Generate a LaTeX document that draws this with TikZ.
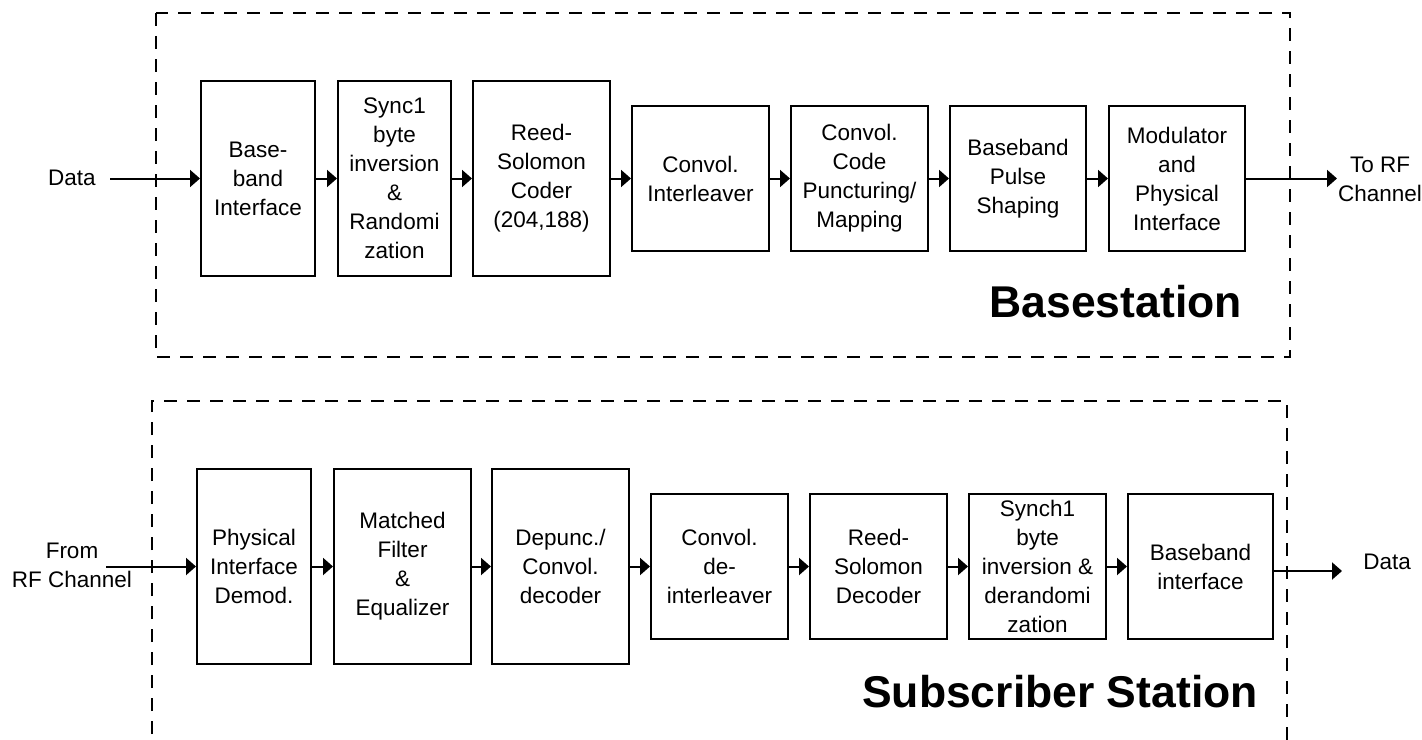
\documentclass[tikz,border=0pt]{standalone}
\usepackage{fontspec}
\setmainfont{Liberation Sans}
\usetikzlibrary{arrows.meta}
\tikzset{
  blk/.style={draw, line width=2bp, inner sep=0pt, align=center,
    font=\fontsize{22.5bp}{29bp}\selectfont},
  tall/.style={minimum height=195bp},
  short/.style={minimum height=145bp},
  lbl/.style={inner sep=0pt, align=center, font=\fontsize{22.5bp}{29bp}\selectfont},
  title/.style={inner sep=0pt, font=\fontsize{44.5bp}{50bp}\selectfont\bfseries},
  conn/.style={line width=2bp, -{Triangle[length=10bp,width=17bp]}},
  frame/.style={line width=2bp, dash pattern=on 13bp off 10bp},
}
\begin{document}
\begin{tikzpicture}[x=1bp,y=-1bp]
\useasboundingbox (0,0) rectangle (1422,739);
\clip (0,0) rectangle (1422,739);
% Basestation frame
\draw[frame] (156,13) rectangle (1290,357);
% Subscriber frame (extends beyond bottom)
\draw[frame] (152,780) -- (152,401) -- (1287,401) -- (1287,780);

% top chain
\node[blk,tall,minimum width=114bp] (a1) at (258,178.5) {Base-\\band\\Interface};
\node[blk,tall,minimum width=113bp] (a2) at (394.5,178.5) {Sync1\\byte\\inversion\\\&\\Randomi\\zation};
\node[blk,tall,minimum width=137bp] (a3) at (541.5,178.5) {Reed-\\Solomon\\Coder\\(204,188)};
\node[blk,short,minimum width=137bp] (a4) at (700.5,178.5) {Convol.\\Interleaver};
\node[blk,short,minimum width=137bp] (a5) at (859.5,178.5) {Convol.\\Code\\Puncturing/\\Mapping};
\node[blk,short,minimum width=136bp] (a6) at (1018,178.5) {Baseband\\Pulse\\Shaping};
\node[blk,short,minimum width=136bp] (a7) at (1177,178.5) {Modulator\\and\\Physical\\Interface};

\node[lbl] (din) at (72,178) {Data};
\coordinate (din0) at (110,178.5);
\node[lbl] (torf) at (1380,179) {To RF\\Channel};
\coordinate (aout) at (1337,178.5);

\draw[conn] (din0) -- (a1.west);
\draw[conn] (a1) -- (a2);
\draw[conn] (a2) -- (a3);
\draw[conn] (a3) -- (a4);
\draw[conn] (a4) -- (a5);
\draw[conn] (a5) -- (a6);
\draw[conn] (a6) -- (a7);
\draw[conn] (a7.east) -- (aout);

\node[title, anchor=base east] (bs) at (1242,317) {Basestation};

% bottom chain
\node[blk,tall,minimum width=114bp] (b1) at (254,566.5) {Physical\\Interface\\Demod.};
\node[blk,tall,minimum width=137bp] (b2) at (402.5,566.5) {Matched\\Filter\\\&\\Equalizer};
\node[blk,tall,minimum width=137bp] (b3) at (560.5,566.5) {Depunc./\\Convol.\\decoder};
\node[blk,short,minimum width=137bp] (b4) at (719.5,566.5) {Convol.\\de-\\interleaver};
\node[blk,short,minimum width=137bp] (b5) at (878.5,566.5) {Reed-\\Solomon\\Decoder};
\node[blk,short,minimum width=137bp] (b6) at (1037.5,566.5) {Synch1\\byte\\inversion \&\\derandomi\\zation};
\node[blk,short,minimum width=145bp] (b7) at (1200.5,566.5) {Baseband\\interface};

\node[lbl] (fromrf) at (72,565) {From\\RF Channel};
\coordinate (bin0) at (106,566.5);
\node[lbl] (dout) at (1387,562) {Data};
\coordinate (bout) at (1342,571);

\draw[conn] (bin0) -- (b1.west);
\draw[conn] (b1) -- (b2);
\draw[conn] (b2) -- (b3);
\draw[conn] (b3) -- (b4);
\draw[conn] (b4) -- (b5);
\draw[conn] (b5) -- (b6);
\draw[conn] (b6) -- (b7);
\draw[conn] (b7.east |- bout) -- (bout);

\node[title, anchor=base east] (ss) at (1258,707) {Subscriber Station};
\end{tikzpicture}
\end{document}
